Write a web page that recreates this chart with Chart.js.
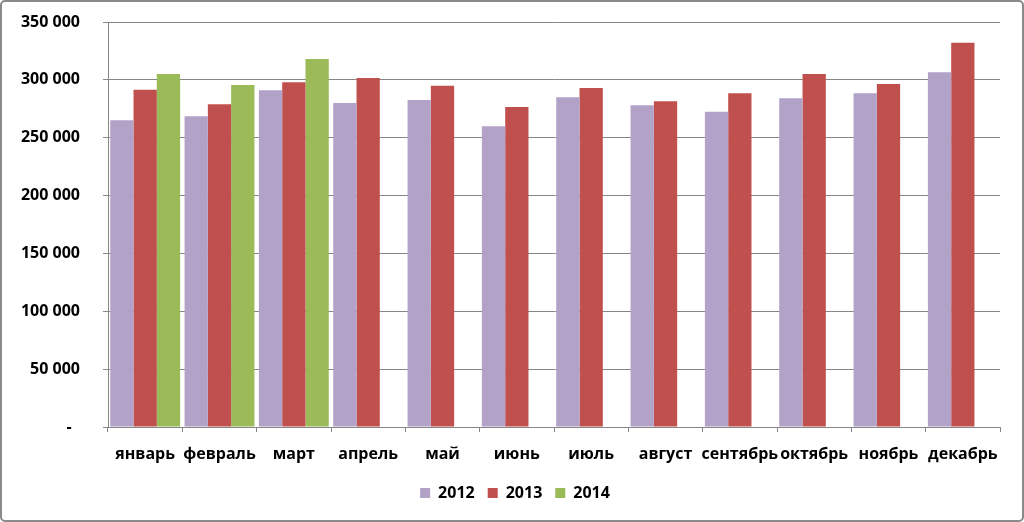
<!DOCTYPE html>
<html><head><meta charset="utf-8">
<script src="https://cdn.jsdelivr.net/npm/chart.js@4"></script>
<style>
html,body{margin:0;padding:0;background:#fff;}
#wrap{width:1024px;height:522px;box-sizing:border-box;border:2px solid #8a8a8a;border-radius:5px;position:relative;background:#fff;}
canvas{display:block;}
</style></head>
<body>
<div id="wrap"><canvas id="c" width="1020" height="518"></canvas></div>
<script>
const categories = ['январь','февраль','март','апрель','май','июнь','июль','август','сентябрь','октябрь','ноябрь','декабрь'];
const seriesNames = ['2012','2013','2014'];
const values2012 = [265000,268500,291000,280000,282500,260000,285000,278000,272500,284000,288500,306500];
const values2013 = [291500,279000,298000,301500,295000,276500,293000,281500,288500,305000,296500,332000];
const values2014 = [305000,295500,318000,null,null,null,null,null,null,null,null,null];
const yTicks = [0,50000,100000,150000,200000,250000,300000,350000];
const colors = ['#B3A2C7','#C0504D','#9BBB59'];

function fmt(v){
  if (v === 0) return '-  ';
  return String(v).replace(/\B(?=(\d{3})+(?!\d))/g,' ');
}

const FONT = {family:'"Open Sans", sans-serif', size:16, weight:'bold'};

const shiftLegend = {
  id:'shiftLegend',
  afterLayout(chart){
    const lg = chart.legend;
    lg.left += 14; lg.right += 14;
    lg.top -= 5; lg.bottom -= 5;
  }
};

new Chart(document.getElementById('c'), {
  type:'bar',
  data:{
    labels: categories,
    datasets:[
      {label:seriesNames[0], data:values2012, backgroundColor:colors[0]},
      {label:seriesNames[1], data:values2013, backgroundColor:colors[1]},
      {label:seriesNames[2], data:values2014, backgroundColor:colors[2]}
    ]
  },
  options:{
    responsive:false,
    animation:false,
    devicePixelRatio:1,
    layout:{padding:{left:0,right:22,top:20,bottom:4}},
    datasets:{bar:{categoryPercentage:0.94,barPercentage:1.0,borderWidth:0}},
    scales:{
      x:{
        grid:{display:true,drawOnChartArea:false,drawTicks:true,tickLength:5,offset:true,color:'#868686',lineWidth:1},
        border:{display:true,color:'#868686',width:1},
        ticks:{color:'#000',font:FONT,padding:13,maxRotation:0,autoSkip:false},
        afterFit(s){ s.height = 50; }
      },
      y:{
        min:0,max:350000,
        afterBuildTicks(s){ s.ticks = yTicks.map(v=>({value:v})); },
        grid:{color:'#868686',lineWidth:1,drawTicks:true,tickLength:5},
        border:{display:true,color:'#868686',width:1},
        ticks:{color:'#000',font:FONT,padding:23,callback:(v)=>fmt(v)},
        afterFit(s){ s.width = 106; s.paddingTop = 0; s.paddingBottom = 0; }
      }
    },
    plugins:{
      legend:{
        position:'bottom',
        labels:{boxWidth:10,boxHeight:10,padding:13,color:'#000',font:FONT}
      },
      tooltip:{enabled:false}
    }
  },
  plugins:[shiftLegend]
});
</script>
</body></html>
